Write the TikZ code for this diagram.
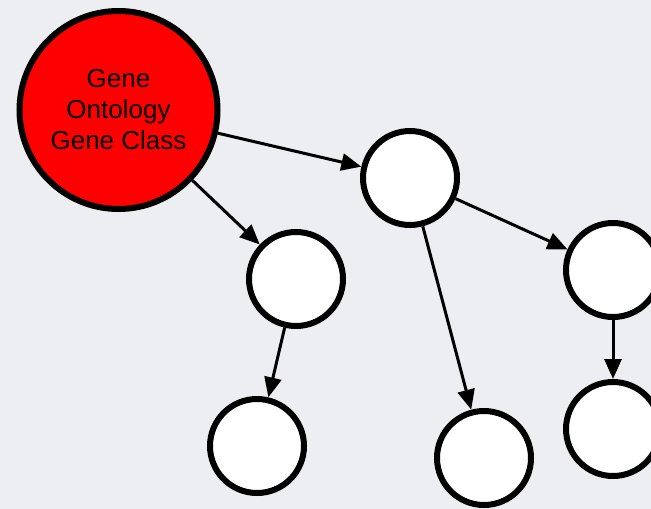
\documentclass[tikz,border=0pt]{standalone}
\usepackage{fontspec}
\setmainfont{Liberation Sans}
\usetikzlibrary{arrows.meta}
\definecolor{bg}{RGB}{237,238,242}
\begin{document}
\begin{tikzpicture}[x=1pt,y=-1pt,
  term/.style={circle, draw=black, line width=6pt, fill=white,
    minimum size=94pt, inner sep=0pt},
  root/.style={term, fill=red, minimum size=198pt,
    font=\fontsize{26}{31}\selectfont, align=center},
  link/.style={line width=3pt, -{Triangle[length=20pt,width=17pt]}}]
\clip (0,0) rectangle (651,509);
\fill[bg] (0,0) rectangle (651,509);

% ontology class and its descendants
\node[root] (go) at (118.5,110) {Gene\\Ontology\\Gene Class};
\node[term] (a) at (410,178) {};
\node[term] (b) at (296,279) {};
\node[term] (c) at (613,270) {};
\node[term] (d) at (257,446) {};
\node[term] (e) at (484,458) {};
\node[term] (f) at (613,429) {};

% subclass links
\draw[link] (go) -- (a);
\draw[link] (go) -- (b);
\draw[link] (a) -- (c);
\draw[link] (a) -- (e);
\draw[link] (b) -- (d);
\draw[link] (c) -- (f);
\end{tikzpicture}
\end{document}
